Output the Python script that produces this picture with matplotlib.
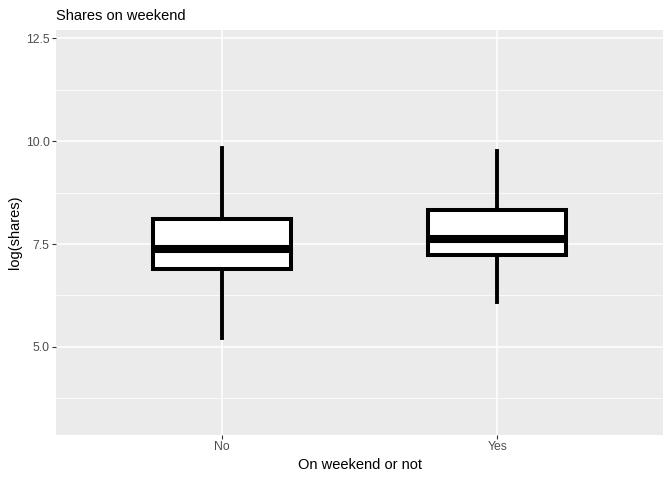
import matplotlib
matplotlib.use("Agg")
import matplotlib.pyplot as plt

plt.rcParams['font.family'] = ['Liberation Sans', 'DejaVu Sans']

# dados
categories = ['No', 'Yes']
whisker_low = [5.21, 6.10]
q1 = [6.89, 7.24]
medians = [7.39, 7.61]
q3 = [8.10, 8.32]
whisker_high = [9.83, 9.75]

stats = []
for cat, lo, a, m, b, hi in zip(categories, whisker_low, q1, medians, q3, whisker_high):
    stats.append({'label': cat, 'whislo': lo, 'q1': a, 'med': m, 'q3': b, 'whishi': hi, 'fliers': []})

fig = plt.figure(figsize=(6.72, 4.8), dpi=100)
ax = fig.add_axes([56 / 672, 1 - 435 / 480, (663 - 56) / 672, (435 - 30) / 480])
ax.set_facecolor('#EBEBEB')

positions = list(range(1, len(categories) + 1))
ax.bxp(stats, positions=positions, widths=0.5, showcaps=False, showfliers=False,
       patch_artist=True,
       boxprops=dict(facecolor='white', edgecolor='black', linewidth=2.9),
       whiskerprops=dict(color='black', linewidth=2.8),
       medianprops=dict(color='black', linewidth=5.8, solid_capstyle='butt'),
       zorder=3)

ax.set_xlim(0.4, 2.6)
ax.set_ylim(2.86, 12.70)
ax.set_xticks(positions)
ax.set_xticklabels(categories)
ax.set_yticks([5.0, 7.5, 10.0, 12.5])
ax.set_yticklabels(['5.0', '7.5', '10.0', '12.5'])
ax.set_yticks([3.75, 6.25, 8.75, 11.25], minor=True)
ax.tick_params(axis='y', which='minor', length=0)

ax.grid(True, which='major', color='white', linewidth=1.1, zorder=0)
ax.grid(True, which='minor', axis='y', color='white', linewidth=0.55, zorder=0)
ax.set_axisbelow(True)
for s in ax.spines.values():
    s.set_visible(False)

ax.tick_params(axis='both', which='major', length=2.6, width=0.8, color='#333333',
               labelcolor='#4D4D4D', labelsize=8.8, pad=2)

ax.set_xlabel('On weekend or not', fontsize=10.5, color='black', labelpad=3)
ax.set_ylabel('log(shares)', fontsize=10.5, color='black', labelpad=3)
ax.set_title('Shares on weekend', loc='left', fontsize=10.5, color='black', pad=7)

plt.savefig('out.png', dpi=100)
